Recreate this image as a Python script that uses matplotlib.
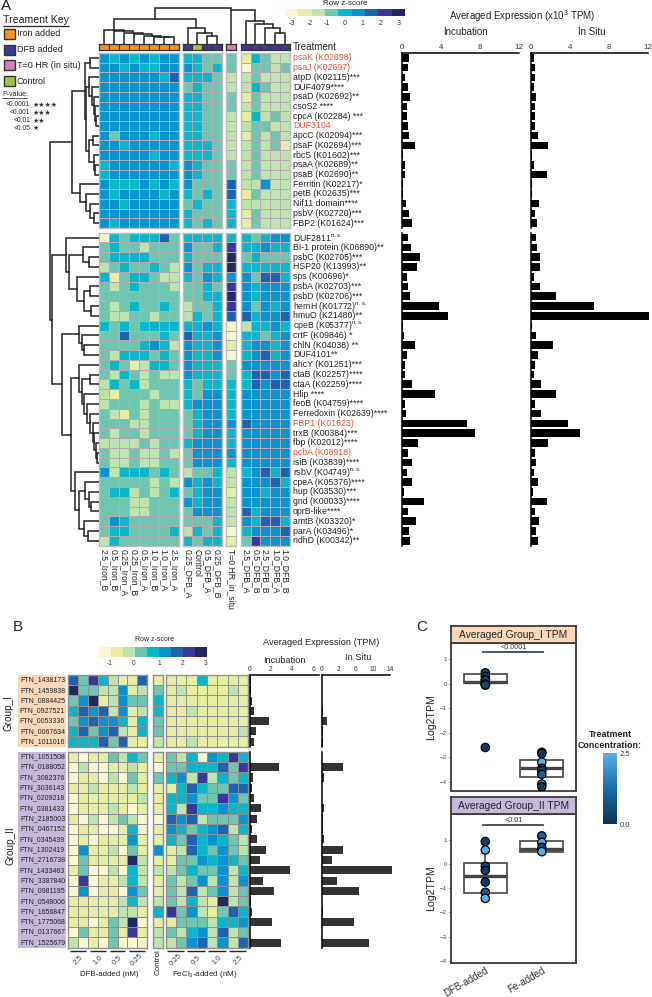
import numpy as np
import matplotlib
matplotlib.use("Agg")
import matplotlib.pyplot as plt
from matplotlib.colors import ListedColormap, BoundaryNorm, LinearSegmentedColormap
from matplotlib.cm import ScalarMappable
from matplotlib.lines import Line2D
from matplotlib.patches import Rectangle

plt.rcParams['font.family'] = ['Liberation Sans', 'DejaVu Sans']
plt.rcParams['mathtext.default'] = 'regular'

W, H = 652, 997

# ---------- DATA ----------
palette = ['#f8f7cf', '#e6eda4', '#bfe3ae', '#70c5b1', '#0cb6c8', '#0a94cf', '#1f62b0', '#37389a', '#25275f']

a_col_labels = ['2.5_Iron_B', '0.5_Iron_B', '0.25_Iron_A', '0.25_Iron_B', '0.5_Iron_A', '1.0_Iron_B', '1.0_Iron_A', '2.5_Iron_A',
                '0.25_DFB_A', 'Control', '0.5_DFB_A', '0.25_DFB_B', 'T=0 HR_in_situ',
                '2.5_DFB_A', '0.5_DFB_B', '2.5_DFB_B', '1.0_DFB_A', '1.0_DFB_B']
a_treatment = ['iron'] * 8 + ['dfb', 'control', 'dfb', 'dfb', 't0'] + ['dfb'] * 5
treat_colors = {'iron': '#f7941d', 'dfb': '#3b3a93', 't0': '#d67fb9', 'control': '#a4c63a'}

a_top_labels = ['psaK (K02698)', 'psaJ (K02697)', 'atpD (K02115)***', 'DUF4079****', 'psaD (K02692)**', 'csoS2 ****',
                'cpcA (K02284) ***', 'DUF3104', 'apcC (K02094)***', 'psaF (K02694)***', 'rbcS (K01602)***', 'psaA (K02689)**',
                'psaB (K02690)**', 'Ferritin (K02217)*', 'petB (K02635)***', 'Nif11 domain****', 'psbV (K02720)***', 'FBP2 (K01624)***']
a_low_labels = ['DUF2811$^{n.s.}$', 'BI-1 protein (K06890)**', 'psbC (K02705)***', 'HSP20 (K13993)**', 'sps (K00696)*',
                'psbA (K02703)***', 'psbD (K02706)***', 'hemH (K01772)$^{n.s.}$', 'hmuO (K21480)**', 'cpeB (K05377)$^{n.s.}$',
                'crtF (K09846) *', 'chlN (K04038) **', 'DUF4101**', 'ahcY (K01251)***', 'ctaB (K02257)****', 'ctaA (K02259)****',
                'Hlip ****', 'feoB (K04759)****', 'Ferredoxin (K02639)****', 'FBP1 (K01623)', 'trxB (K00384)***', 'fbp (K02012)****',
                'pcbA (K08918)', 'isiB (K03839)****', 'rsbV (K04749)$^{n.s.}$', 'cpeA (K05376)****', 'hup (K03530)***', 'gnd (K00033)****',
                'oprB-like****', 'amtB (K03320)*', 'parA (K03496)*', 'ndhD (K00342)**']
a_red = {'psaK (K02698)', 'psaJ (K02697)', 'DUF3104', 'FBP1 (K01623)', 'pcbA (K08918)'}

a_top = [
 [5,4,5,4,5,4,5,5, 4,4,3,3, 3, 1,4,3,2,2],
 [5,5,4,5,4,4,5,5, 5,4,3,4, 3, 0,3,3,2,3],
 [5,5,5,5,5,5,4,6, 4,4,4,3, 2, 2,3,2,2,2],
 [5,5,5,5,5,5,5,5, 3,4,3,3, 2, 2,4,3,2,2],
 [5,5,5,5,5,5,5,5, 4,4,3,3, 3, 1,3,2,2,2],
 [5,5,5,5,5,5,5,5, 4,4,3,3, 3, 2,3,2,2,2],
 [5,5,5,5,5,5,5,5, 4,4,3,3, 2, 1,4,2,3,2],
 [5,5,5,5,5,5,5,5, 4,4,3,3, 2, 2,3,3,2,2],
 [5,3,5,5,5,4,5,5, 4,4,3,3, 2, 1,3,2,3,2],
 [5,5,4,5,5,5,5,5, 4,4,4,3, 2, 2,3,2,3,1],
 [5,5,5,5,5,4,5,5, 4,4,4,3, 2, 2,3,2,2,2],
 [4,5,5,5,5,5,5,4, 5,4,3,3, 3, 2,3,2,2,2],
 [4,5,5,5,5,5,5,5, 5,4,3,3, 3, 2,3,2,2,2],
 [5,4,4,4,5,4,5,4, 5,3,3,3, 6, 2,2,5,2,2],
 [5,4,5,5,5,5,4,5, 4,3,4,3, 6, 1,3,2,2,2],
 [5,5,4,5,5,5,5,5, 3,4,3,3, 4, 2,2,2,2,2],
 [5,5,5,5,5,5,5,5, 4,3,3,3, 4, 1,3,2,2,2],
 [5,4,5,5,5,5,5,5, 4,3,4,3, 4, 1,3,2,2,2],
]
a_low = [
 [0,4,3,4,4,4,6,3, 4,4,4,4, 4, 4,3,4,5,5],
 [3,4,3,3,2,3,3,3, 5,3,3,4, 7, 4,4,5,4,4],
 [3,4,4,4,4,3,3,3, 4,3,3,3, 8, 3,4,3,3,3],
 [2,3,4,3,3,4,3,2, 5,3,4,4, 8, 4,4,4,4,4],
 [4,1,3,4,4,3,2,2, 4,3,5,4, 5, 5,3,6,6,4],
 [3,2,3,4,3,3,3,2, 3,3,4,3, 7, 5,4,5,5,5],
 [3,3,3,3,3,3,3,3, 3,3,4,4, 8, 5,4,5,5,5],
 [3,2,3,4,3,3,4,3, 2,3,3,4, 7, 5,3,5,4,5],
 [3,2,2,3,3,2,3,3, 2,4,3,4, 6, 6,4,5,5,6],
 [4,3,4,3,4,4,4,4, 4,4,5,4, 0, 2,4,4,5,4],
 [3,3,6,3,3,3,4,3, 6,4,4,5, 0, 4,4,3,4,5],
 [3,3,3,3,4,5,4,2, 5,4,4,5, 1, 4,5,5,4,5],
 [3,2,4,4,4,3,4,3, 5,4,4,5, 0, 4,5,6,4,5],
 [3,4,3,1,2,4,4,3, 5,4,4,4, 3, 5,5,5,5,5],
 [3,2,4,3,2,3,2,2, 5,4,4,4, 3, 4,6,6,5,6],
 [2,4,3,4,2,3,3,3, 4,3,4,4, 4, 4,6,5,6,6],
 [2,1,3,3,3,2,3,3, 4,3,5,5, 4, 5,5,5,5,5],
 [2,3,3,3,2,3,2,2, 4,5,5,5, 4, 5,5,5,5,5],
 [3,2,1,3,2,3,3,3, 3,4,5,5, 4, 5,5,5,5,5],
 [3,3,3,2,2,3,3,3, 3,4,5,5, 5, 6,5,5,5,5],
 [3,2,3,3,2,3,3,3, 3,4,5,5, 4, 5,5,5,5,5],
 [2,2,2,2,3,2,3,3, 4,5,5,5, 4, 5,5,5,5,5],
 [3,2,2,3,2,2,3,2, 3,5,5,5, 5, 5,5,5,5,5],
 [3,2,2,3,2,2,3,3, 3,5,5,5, 4, 5,5,5,5,5],
 [5,2,4,4,4,3,4,3, 2,3,3,4, 2, 4,5,6,4,6],
 [3,3,3,3,3,2,3,2, 5,4,5,4, 2, 5,5,5,6,4],
 [3,4,4,2,3,2,3,4, 3,4,5,5, 1, 5,5,4,5,5],
 [3,3,3,2,2,3,3,3, 5,4,5,5, 2, 5,5,5,5,5],
 [3,3,3,2,2,3,3,3, 3,5,5,5, 2, 6,4,5,5,5],
 [3,5,4,3,3,3,3,3, 3,3,3,4, 2, 5,4,6,6,4],
 [3,4,4,3,3,3,3,4, 2,4,3,4, 0, 4,5,5,5,6],
 [2,4,3,3,3,3,3,3, 4,3,4,4, 1, 3,7,5,5,5],
]

a_top_inc = [.7,.6,.27,.55,.8,.5,.5,.6,.7,1.3,.1,.27,.27,.12,.12,.4,.65,.95]
a_top_situ = [.38,.4,.4,.35,.5,.4,.45,.45,.8,1.8,.12,.3,1.7,.12,.1,.85,.4,.6]
a_low_inc = [.6,.85,1.8,1.5,.45,.55,.75,3.8,4.7,.1,.2,1.3,.45,.25,.3,.95,3.35,.3,.35,6.65,7.5,1.6,.55,.95,.45,1.05,.2,2.2,.6,1.4,.7,.75]
a_low_situ = [.5,.6,.95,1.0,.35,.95,2.55,6.5,12.2,.15,.5,2.3,.7,.4,.35,1.1,2.55,.4,1.05,3.85,5.1,1.8,.4,.5,.3,.8,.27,1.7,.4,.9,.55,.75]

# Dendrograms: (height, child, child[, 'L' = stem at the left child])
top_tree = (36, (25,
                 (14, 0, (12.5, 1, (11, 2, (9.5, 3, (8, 4, (7.2, 5, (7, 6, 7))))))),
                 (15.5, 8, (11, 9, (7.5, 10, 11)))),
            (34, 12, (23, 13, (20, 14, (15.5, 15, (11, 16, 17)))), 'L'))
left_top = (27, (13.5, (8.5, 0, 1),
                 (12.5, (10, 2, (7, 3, (5, 4, (3.5, 5, (2.5, 6, 7))))),
                  (9.5, (6, 8, 9), (5, 10, (3.5, 11, 12))))),
            (18.5, 13, (13, 14, (9, 15, (5, 16, 17)))))
left_low_a = (33, 0, (29.5, (15.5, 1, (10, 2, 3)),
                      (22, 4, (15, (8.5, 5, 6), (8, 7, 8)))))
left_low_b = (37, (19.5, 9, (17, 10, (14.5, 11, 12))),
              (28, (19.5, 13, (17, (9, 14, 15), (15, 16, (12, 17, (9, 18, (6, 19, (4.5, 20, (2.5, 21, (1.5, 22, 23)))))))),),
               (24, 24, (20, (14, 25, (10, 26, (8, 27, 28))), (15, 29, (11, 30, 31))))))
left_low_tree = (46.5, left_low_a, left_low_b)

b_group1_labels = ['FTN_1438173', 'FTN_1459838', 'FTN_0884425', 'FTN_0927521', 'FTN_0053336', 'FTN_0067634', 'FTN_1011016']
b_group2_labels = ['FTN_1051508', 'FTN_0188052', 'FTN_3082376', 'FTN_3036143', 'FTN_0209218', 'FTN_0381433', 'FTN_2185003',
                   'FTN_0467152', 'FTN_0345439', 'FTN_1302419', 'FTN_2716738', 'FTN_1433463', 'FTN_3387840', 'FTN_0981195',
                   'FTN_0548006', 'FTN_1656847', 'FTN_1775068', 'FTN_0137667', 'FTN_1525679']
b_group1 = [
 [6,3,7,4,2,1,1,6, 1, 1,1,1,4,1,1,1,1],
 [8,3,3,2,2,5,1,2, 3, 1,2,1,1,1,1,2,1],
 [3,5,8,1,2,5,3,3, 4, 1,1,1,1,1,1,1,1],
 [4,6,5,6,2,5,1,2, 4, 1,1,2,1,1,1,1,1],
 [3,5,6,5,5,4,1,4, 3, 1,1,1,1,1,1,1,1],
 [4,6,3,5,6,2,1,4, 3, 1,1,1,1,1,1,1,2],
 [4,4,4,6,3,6,1,1, 2, 1,1,2,1,1,1,1,1],
]
b_group2 = [
 [1,0,1,1,3,2,4,3, 1, 3,2,4,0,5,4,7,4],
 [0,2,0,0,1,1,2,1, 0, 3,3,4,4,4,6,3,7],
 [0,1,1,0,2,0,3,1, 3, 4,5,2,7,2,4,3,4],
 [1,1,2,1,1,1,2,1, 1, 1,4,6,4,3,3,6,6],
 [0,1,1,1,1,1,1,2, 1, 4,4,5,3,3,7,5,3],
 [0,1,1,1,2,1,0,1, 1, 4,2,7,4,4,5,4,4],
 [1,0,2,0,2,3,2,0, 0, 6,5,6,2,3,3,3,5],
 [0,1,1,0,0,1,4,0, 1, 5,4,3,4,5,6,2,4],
 [0,1,0,1,1,1,5,1, 1, 4,3,6,4,5,4,3,2],
 [0,5,1,1,2,0,3,1, 5, 1,2,6,4,3,5,3,2],
 [0,3,1,1,1,1,8,2, 1, 1,3,3,5,4,5,4,3],
 [1,3,0,0,2,0,4,2, 2, 2,3,4,3,3,5,2,4],
 [0,7,0,1,1,2,4,2, 1, 3,2,3,5,2,5,2,5],
 [0,5,0,1,1,0,5,3, 1, 3,2,6,2,3,5,2,3],
 [1,1,1,1,1,2,4,2, 2, 3,2,4,2,1,8,2,3],
 [1,1,1,1,1,2,2,1, 4, 7,3,5,2,1,3,6,4],
 [1,1,0,1,3,2,8,0, 1, 1,3,3,3,2,4,4,5],
 [0,3,1,1,3,1,7,1, 2, 3,2,4,5,2,6,2,3],
 [2,0,1,0,3,0,0,0, 2, 2,3,5,6,2,5,2,6],
]
b1_inc = [.15,.08,.2,.45,1.8,.6,.45]
b1_situ = [0,0,.05,.25,1.0,.15,.15]
b2_inc = [0,2.8,.3,.2,.45,1.1,.7,.25,.65,1.5,1.0,3.85,1.3,2.3,.15,.2,2.1,.05,3.0]
b2_situ = [0,4.4,.4,0,0,.4,.3,.15,.45,4.3,2.1,14.4,3.1,7.7,0,.3,6.6,0,9.6]
b_dfb_doses = ['2.5', '1.0', '0.5', '0.25']
b_fe_doses = ['0.25', '0.5', '1.0', '2.5']

c_categories = ['DFB-added', 'Fe-added']
c1_dfb_y = [.45, .3, .15, .15, 0, -.05, -.05, -2.6]
c1_dfb_conc = [.5, .25, 1.0, .5, .25, 1.0, .5, .25]
c1_fe_y = [-2.8, -2.85, -3.2, -3.45, -3.55, -3.7, -4.1, -4.2]
c1_fe_conc = [.5, .25, 2.5, .25, .5, 1.0, 2.5, .25]
c2_dfb_y = [.92, .57, -.1, -.27, -.75, -1.17, -1.42]
c2_dfb_conc = [.25, 2.5, .5, .25, .25, 1.0, 2.5]
c2_fe_y = [1.15, .88, .68, .5]
c2_fe_conc = [1.0, 2.5, .5, 2.5]
c1_box = [dict(q1=.03, med=.08, q3=.42, whislo=-.05, whishi=.45), dict(q1=-3.8, med=-3.45, q3=-3.1, whislo=-4.2, whishi=-2.8)]
c2_box = [dict(q1=-1.2, med=-.5, q3=.05, whislo=-1.45, whishi=.92), dict(q1=.5, med=.62, q3=.92, whislo=.5, whishi=1.15)]

# ---------- HELPERS ----------
fig = plt.figure(figsize=(W / 100, H / 100), dpi=100)
cmap = ListedColormap(palette)
norm = BoundaryNorm(np.arange(-.5, 9.5), 9)


def axpx(x0, y0, x1, y1, **kw):
    return fig.add_axes([x0 / W, 1 - y1 / H, (x1 - x0) / W, (y1 - y0) / H], **kw)


def T(x, y, s, size=7.5, ha='left', va='center', **kw):
    kw.setdefault('color', '#222222')
    return fig.text(x / W, 1 - y / H, s, fontsize=size, ha=ha, va=va, **kw)


def hline(x0, x1, y, lw=0.8, color='#222222'):
    fig.add_artist(Line2D([x0 / W, x1 / W], [1 - y / H, 1 - y / H], color=color, lw=lw, solid_capstyle='butt'))


def heat(rect, data, edge, lw, border):
    ax = axpx(*rect)
    arr = np.array(data)
    ax.pcolormesh(arr, cmap=cmap, norm=norm, edgecolors=edge, linewidth=lw)
    ax.set_ylim(arr.shape[0], 0)
    ax.set_xticks([]); ax.set_yticks([])
    for s in ax.spines.values():
        s.set_color(border); s.set_linewidth(1.0)
    return ax


def layout(node, pos, orient, ax, lw=1.1):
    """Recursively draw a dendrogram; returns (position, height)."""
    if not isinstance(node, tuple):
        return pos[node], 0
    h, a, b = node[:3]
    pa, ha_ = layout(a, pos, orient, ax, lw)
    pb, hb = layout(b, pos, orient, ax, lw)
    xs = [pa, pa, pb, pb]
    ys = [ha_, h, h, hb]
    if orient == 'top':
        ax.plot(xs, ys, color='#222222', lw=lw, solid_joinstyle='miter')
    else:
        ax.plot(ys, xs, color='#222222', lw=lw, solid_joinstyle='miter')
    stem = pa if len(node) > 3 else (pa + pb) / 2
    return stem, h


def bars(rect, values, xmax, color, bar_h, top=False, ticks=None, ticksize=5.8):
    ax = axpx(*rect)
    ax.barh(np.arange(len(values)), values, height=bar_h, color=color, clip_on=False)
    ax.set_xlim(0, xmax)
    ax.set_ylim(len(values) - .5, -.5)
    ax.set_yticks([])
    for s in ['right', 'bottom']:
        ax.spines[s].set_visible(False)
    ax.spines['left'].set_linewidth(1.1)
    ax.patch.set_alpha(0)
    if top:
        ax.spines['top'].set_linewidth(1.1)
        ax.xaxis.tick_top()
        ax.set_xticks(ticks)
        ax.set_xticklabels([str(t) for t in ticks], fontsize=ticksize, color='#333333')
        ax.tick_params(axis='x', length=0, pad=1.5)
    else:
        ax.spines['top'].set_visible(False)
        ax.set_xticks([])
    return ax


# ---------- PANEL A ----------
T(1, 6.5, 'A', size=11)
T(3, 20, 'Treament Key', size=7.6)
hline(3, 69, 26, lw=0.9)
key_ax = axpx(0, 26, 90, 90)
key_ax.set_xlim(0, 90); key_ax.set_ylim(90, 26); key_ax.axis('off')
key_items = [('Iron added', 'iron'), ('DFB added', 'dfb'), ('T=0 HR (in situ)', 't0'), ('Control', 'control')]
for (lab, k), yc in zip(key_items, [34, 50, 65, 81]):
    key_ax.add_patch(Rectangle((4.3, yc - 4.8), 10.3, 9.6, fc=treat_colors[k], ec='#333333', lw=1))
    T(16.7, yc, lab, size=6.5)
T(2, 95, 'P-value:', size=5); hline(2, 27, 98, lw=0.5)
for lab, stars, yc in [('<0.0001', '\u2605\u2605\u2605\u2605', 105), ('<0.001', '\u2605\u2605\u2605', 113),
                       ('<0.01', '\u2605\u2605', 120.5), ('<0.05', '\u2605', 128)]:
    T(30, yc, lab, size=4.8, ha='right')
    T(33, yc, stars, size=5, family='DejaVu Sans', color='#333333')

rows_top = (53, 228)
rows_low = (232.7, 545.7)
a_blocks = [(98.7, 178.7, 0, 8), (182.7, 221.7, 8, 12), (226, 236, 12, 13), (240.7, 290, 13, 18)]
a_top_arr = np.array(a_top)
a_low_arr = np.array(a_low)
col_pos = {}
for x0, x1, c0, c1 in a_blocks:
    rect_w = (x1 - x0) / (c1 - c0)
    for i, c in enumerate(range(c0, c1)):
        col_pos[c] = x0 + rect_w * (i + .5)
    heat((x0, rows_top[0], x1, rows_top[1]), a_top_arr[:, c0:c1], '#b5a9b3', .6, '#bdbdbd')
    heat((x0, rows_low[0], x1, rows_low[1]), a_low_arr[:, c0:c1], '#b5a9b3', .6, '#bdbdbd')
    tb = axpx(x0, 44, x1, 50)
    tb.bar(np.arange(c1 - c0), 1, width=1, align='edge', bottom=0,
           color=[treat_colors[t] for t in a_treatment[c0:c1]], edgecolor='#333333', lw=.8)
    tb.set_xlim(0, c1 - c0); tb.set_ylim(0, 1); tb.set_xticks([]); tb.set_yticks([])
    for s in tb.spines.values():
        s.set_color('#333333'); s.set_linewidth(.9)
    for c in range(c0, c1):
        T(col_pos[c], 549, a_col_labels[c], size=6.2, ha='center', va='top', rotation=270)
T(293, 46.5, 'Treatment', size=7)

n_top, n_low = len(a_top), len(a_low)
pitch_top = (rows_top[1] - rows_top[0]) / n_top
pitch_low = (rows_low[1] - rows_low[0]) / n_low
for i, lab in enumerate(a_top_labels):
    T(293, rows_top[0] + pitch_top * (i + .5), lab, size=6.35, color='#e8503a' if lab in a_red else '#222222')
for i, lab in enumerate(a_low_labels):
    T(293, rows_low[0] + pitch_low * (i + .5), lab, size=6.35, color='#e8503a' if lab in a_red else '#222222')

# top dendrogram
td = axpx(98.7, 4, 290, 44)
td.set_xlim(98.7, 290); td.set_ylim(0, 40)
layout(top_tree, col_pos, 'top', td)
td.axis('off')

# left dendrogram
ld = axpx(45, 50, 98.7, 550)
ld.set_xlim(53.7, 0); ld.set_ylim(550, 50)
pos_top = {i: rows_top[0] + pitch_top * (i + .5) for i in range(n_top)}
pos_low = {i: rows_low[0] + pitch_low * (i + .5) for i in range(n_low)}
p1, h1 = layout(left_top, pos_top, 'left', ld)
p2, h2 = layout(left_low_tree, pos_low, 'left', ld)
ld.plot([h1, 48.5, 48.5, h2], [p1, p1, p2, p2], color='#222222', lw=1.1)
ld.axis('off')

# z-score legend A
lg = axpx(285, 9, 405, 16)
lg.pcolormesh(np.arange(9).reshape(1, 9), cmap=cmap, norm=norm)
lg.set_yticks([])
lg.set_xticks([.5 + (z + 3) * 8 / 6 for z in range(-3, 4)])
lg.set_xticklabels([str(z) for z in range(-3, 4)], fontsize=5, color='#333333')
lg.tick_params(axis='x', length=0, pad=3)
for s in lg.spines.values():
    s.set_visible(False)
T(345, 3.5, 'Row z-score', size=5.8, ha='center')

# bars A
ticks12 = [0, 4, 8, 12]
bars((402.3, rows_top[0], 518.7, rows_top[1]), a_top_inc, 12, 'black', .78, True, ticks12)
bars((530.7, rows_top[0], 647.5, rows_top[1]), a_top_situ, 12, 'black', .78, True, ticks12)
bars((402.3, rows_low[0], 518.7, rows_low[1]), a_low_inc, 12, 'black', .78)
bars((530.7, rows_low[0], 647.5, rows_low[1]), a_low_situ, 12, 'black', .78)
T(522, 16.5, 'Averaged Expression (x10$^{3}$ TPM)', size=7, ha='center')
T(465, 32, 'Incubation', size=7, ha='center')
T(592, 32, 'In Situ', size=7, ha='center')

# ---------- PANEL B ----------
T(13, 627, 'B', size=11)
rows_b1 = (675, 746.7)
rows_b2 = (751.7, 947.7)
b_blocks = [(68, 147.3, 0, 8), (152.7, 162.7, 8, 9), (165.7, 248.3, 9, 17)]
b1_arr, b2_arr = np.array(b_group1), np.array(b_group2)
for x0, x1, c0, c1 in b_blocks:
    heat((x0, rows_b1[0], x1, rows_b1[1]), b1_arr[:, c0:c1], '#8f8f8f', .7, '#8f8f8f')
    heat((x0, rows_b2[0], x1, rows_b2[1]), b2_arr[:, c0:c1], '#8f8f8f', .7, '#8f8f8f')
lab_ax = axpx(17.7, 675, 65.7, 948)
lab_ax.set_xlim(0, 1); lab_ax.set_ylim(948, 675); lab_ax.axis('off')
lab_ax.add_patch(Rectangle((0, rows_b1[0]), 1, rows_b1[1] - rows_b1[0], fc='#fbd9b8', ec='none'))
lab_ax.add_patch(Rectangle((0, rows_b2[0]), 1, rows_b2[1] - rows_b2[0], fc='#c6b8da', ec='none'))
pb1 = (rows_b1[1] - rows_b1[0]) / len(b_group1)
pb2 = (rows_b2[1] - rows_b2[0]) / len(b_group2)
for i, lab in enumerate(b_group1_labels):
    T(42.5, rows_b1[0] + pb1 * (i + .5), lab, size=5.05, ha='center')
for i, lab in enumerate(b_group2_labels):
    T(42.5, rows_b2[0] + pb2 * (i + .5), lab, size=5.05, ha='center')
T(9, 713, 'Group_I', size=7.2, ha='center', rotation=90)
T(10, 846, 'Group_II', size=7.2, ha='center', rotation=90)

# legend B
lgb = axpx(98.7, 646.7, 207, 656.7)
lgb.pcolormesh(np.arange(9).reshape(1, 9), cmap=cmap, norm=norm)
lgb.set_yticks([])
lgb.set_xticks([.88, 2.9, 5, 6.98, 8.9])
lgb.set_xticklabels(['-1', '0', '1', '2', '3'], fontsize=4.8, color='#333333')
lgb.tick_params(axis='x', length=0, pad=2.5)
for s in lgb.spines.values():
    s.set_visible(False)
T(155, 639.5, 'Row z-score', size=5, ha='center')

ticks_b1 = [0, 2, 4, 6]
bars((249.7, rows_b1[0], 319, rows_b1[1]), b1_inc, 6.55, '#333333', .78, True, ticks_b1, 4.8)
ax = bars((322, rows_b1[0], 390, rows_b1[1]), b1_situ, 14, '#333333', .78, True, [0, 2, 6, 10, 14], 4.8)
ax.set_xticks([0, 3.5, 7, 10.5, 14]); ax.set_xticklabels(['0', '2', '6', '10', '14'], fontsize=4.8, color='#333333')
bars((249.7, rows_b2[0], 319, rows_b2[1]), b2_inc, 6.55, '#333333', .78)
bars((322, rows_b2[0], 390, rows_b2[1]), b2_situ, 14, '#333333', .78)
T(321, 642, 'Averaged Expression (TPM)', size=6.7, ha='center')
T(284.5, 660.7, 'Incubation', size=6.6, ha='center')
T(358, 658, 'In Situ', size=6.7, ha='center')

grp_w = (147.3 - 68) / 4
for i, d in enumerate(b_dfb_doses):
    x0 = 68 + grp_w * i
    hline(x0 + 2, x0 + grp_w - 2, 951, lw=1.0)
    T(x0 + grp_w / 2, 960, d, size=5.5, ha='center', rotation=45, color='#444444')
grp_w = (248.3 - 165.7) / 4
for i, d in enumerate(b_fe_doses):
    x0 = 165.7 + grp_w * i
    hline(x0 + 1, x0 + grp_w - 2, 951, lw=1.0)
    T(x0 + grp_w / 2, 960, d, size=5.5, ha='center', rotation=45, color='#444444')
T(109, 974, 'DFB-added (nM)', size=5.7, ha='center')
T(158, 962, 'Control', size=5.8, ha='center', rotation=90)
T(205, 974, 'FeCl$_{3}$-added (nM)', size=5.8, ha='center')

# ---------- PANEL C ----------
T(416, 627, 'C', size=11)
conc_cmap = LinearSegmentedColormap.from_list('conc', ['#0c3150', '#1a6ea8', '#5aaee6'])


def panelc(py0, py1, hy0, title, hcolor, box, dfb, dfbc, fe, fec, ylim, sig, sigy, show_x):
    ax = axpx(450.7, py0, 575.7, py1)
    ax.set_xlim(.387, 2.6)
    ax.set_ylim(*ylim)
    ax.bxp(box, positions=[1, 2], widths=.76, showfliers=False, showcaps=False, patch_artist=True,
           boxprops=dict(facecolor='white', edgecolor='#444444', lw=1.2),
           medianprops=dict(color='#444444', lw=2.4),
           whiskerprops=dict(color='#444444', lw=1.2), zorder=2)
    for xp, ys, cs in [(1, dfb, dfbc), (2, fe, fec)]:
        ax.scatter([xp] * len(ys), ys, c=cs, cmap=conc_cmap, vmin=0, vmax=2.5, s=36,
                   edgecolors='black', linewidths=.9, zorder=3)
    ax.set_yticks([1, 0, -1, -2, -3, -4])
    ax.set_yticklabels(['1', '0', '\u22121', '\u22122', '\u22123', '\u22124'], fontsize=4.5, color='#444444')
    ax.tick_params(axis='y', length=1.5, pad=1, width=.5)
    ax.set_ylabel('Log2TPM', fontsize=7.6, labelpad=3, color='#222222')
    if show_x:
        ax.set_xticks([1, 2])
        ax.set_xticklabels(c_categories, fontsize=7, rotation=30, ha='right', rotation_mode='anchor', color='#333333')
        ax.tick_params(axis='x', length=0, pad=2)
    else:
        ax.set_xticks([])
    for s in ax.spines.values():
        s.set_color('#3a3a3a'); s.set_linewidth(1.3)
    ax.plot([.95, 2.02], [sigy, sigy], color='#444444', lw=1.3, clip_on=False)
    ax.text(1.5, sigy + .03, sig, fontsize=5.2, ha='center', va='bottom', color='#333333')
    hd = axpx(450.7, hy0, 575.7, py0)
    hd.set_facecolor(hcolor); hd.set_xticks([]); hd.set_yticks([])
    for s in hd.spines.values():
        s.set_color('#3a3a3a'); s.set_linewidth(1.3)
    hd.text(.5, .48, title, fontsize=7.4, ha='center', va='center', transform=hd.transAxes, color='#222222')


panelc(642.7, 791, 625.7, 'Averaged Group_I TPM', '#fbd9b8', c1_box, c1_dfb_y, c1_dfb_conc, c1_fe_y, c1_fe_conc,
       (-4.38, 1.68), '<0.0001', 1.3, False)
panelc(814, 963, 797, 'Averaged Group_II TPM', '#c6b8da', c2_box, c2_dfb_y, c2_dfb_conc, c2_fe_y, c2_fe_conc,
       (-4.08, 2.05), '<0.01', 1.6, True)

cax = axpx(603.3, 753, 616.7, 824)
cb = fig.colorbar(ScalarMappable(cmap=conc_cmap, norm=plt.Normalize(0, 2.5)), cax=cax)
cb.set_ticks([0, 2.5]); cb.set_ticklabels(['0.0', '2.5'], fontsize=5.5, color='#333333')
cb.ax.tick_params(length=0, pad=2)
cb.outline.set_visible(False)
T(610, 734.7, 'Treatment', size=6.4, ha='center', fontweight='bold')
T(610, 745, 'Concentration:', size=6.4, ha='center', fontweight='bold')

fig.savefig('out.png', dpi=100)
